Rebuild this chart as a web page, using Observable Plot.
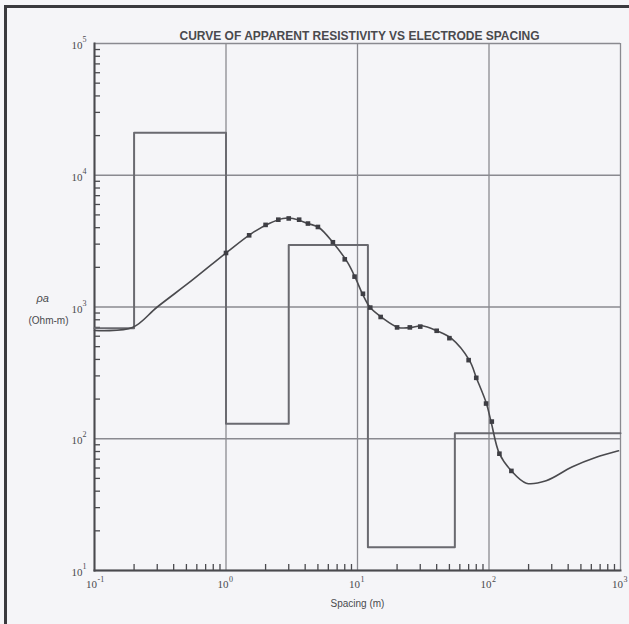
<!DOCTYPE html>
<html>
<head>
<meta charset="utf-8">
<script src="https://cdn.jsdelivr.net/npm/d3@7"></script>
<script src="https://cdn.jsdelivr.net/npm/@observablehq/plot@0.6"></script>
<style>
  html, body { margin: 0; padding: 0; background: #f5f5f8; }
  #chart svg { display: block; background: #f5f5f8; }
</style>
</head>
<body>
<div id="chart"></div>
<script>
const titleText = "CURVE OF APPARENT RESISTIVITY VS ELECTRODE SPACING";
const xLabel = "Spacing (m)";
const yLabel1 = "ρa";
const yLabel2 = "(Ohm-m)";

const xTicks = [0.1, 1, 10, 100, 1000];
const xTickBase = ["10", "10", "10", "10", "10"];
const xTickExp = ["-1", "0", "1", "2", "3"];
const yTicks = [10, 100, 1000, 10000, 100000];
const yTickBase = ["10", "10", "10", "10", "10"];
const yTickExp = ["1", "2", "3", "4", "5"];

// layered model (step line)
const layerBoundaries = [0.1, 0.2, 1.0, 3.0, 12, 55, 1000];
const layerResistivity = [690, 21000, 130, 2950, 15, 110];

// computed apparent resistivity curve
const curveSpacing = [0.1, 0.194, 0.30, 0.55, 1.0, 1.56, 2.13, 2.71, 3.23, 4.2, 5.08, 6.5, 8.4, 9.7, 10.9, 12.5, 15.4, 20.4, 26, 31, 40, 52, 71, 80.5, 95.6, 104, 120, 148, 192, 272, 427, 646, 966];
const curveRho = [664, 698, 1000, 1590, 2570, 3610, 4300, 4700, 4700, 4300, 4010, 3090, 2180, 1640, 1260, 990, 830, 700, 700, 720, 660, 575, 393, 287, 185, 133, 77, 57, 46, 48, 61, 72, 81];

// field measurements
const fieldSpacing = [1.0, 1.5, 2.0, 2.5, 3.0, 3.6, 4.2, 5.0, 6.5, 8.0, 9.5, 11, 12.5, 15, 20, 25, 30, 40, 50, 70, 80, 95, 105, 120, 148];
const fieldRho = [2570, 3500, 4200, 4600, 4700, 4600, 4300, 4050, 3100, 2300, 1700, 1260, 990, 840, 700, 700, 710, 660, 580, 395, 290, 185, 135, 77, 57];

const stepData = layerResistivity.map((r, i) => ({x: layerBoundaries[i], y: r}));
stepData.push({x: layerBoundaries[layerBoundaries.length - 1], y: layerResistivity[layerResistivity.length - 1]});
const curveData = curveSpacing.map((x, i) => ({x, y: curveRho[i]}));
const fieldData = fieldSpacing.map((x, i) => ({x, y: fieldRho[i]}));
const xLabelData = xTicks.map((v, i) => ({v, base: xTickBase[i], exp: xTickExp[i]}));
const yLabelData = yTicks.map((v, i) => ({v, base: yTickBase[i], exp: yTickExp[i]}));

// minor log ticks
const minorX = [];
for (let i = 0; i < xTicks.length - 1; i++) for (let k = 2; k <= 9; k++) minorX.push(xTicks[i] * k);
const minorY = [];
for (let i = 0; i < yTicks.length - 1; i++) for (let k = 2; k <= 9; k++) minorY.push(yTicks[i] * k);

const ink = "#4a4a4e";
const grid = "#8a8a90";
const tickFont = "Liberation Serif, serif";

const chart = Plot.plot({
  width: 629,
  height: 624,
  marginLeft: 94,
  marginRight: 9,
  marginTop: 43,
  marginBottom: 54,
  style: {fontFamily: "Liberation Sans, Arial, sans-serif", background: "#f5f5f8", color: ink},
  x: {type: "log", domain: [0.1, 1000]},
  y: {type: "log", domain: [10, 100000]},
  marks: [
    // grid
    Plot.gridX(xTicks, {stroke: grid, strokeOpacity: 1, strokeWidth: 1.3}),
    Plot.gridY(yTicks, {stroke: grid, strokeOpacity: 1, strokeWidth: 1.3}),
    // minor ticks pointing inward
    Plot.axisX(minorX, {tickSize: -6, tickFormat: () => "", stroke: ink, strokeWidth: 1.3, label: null}),
    Plot.axisY(minorY, {tickSize: -6, tickFormat: () => "", stroke: ink, strokeWidth: 1.3, label: null}),
    // major tick labels: base + exponent
    Plot.text(xLabelData, {x: "v", text: "base", frameAnchor: "bottom", dy: 17, dx: -3, fontSize: 11, fontFamily: tickFont, fill: ink}),
    Plot.text(xLabelData, {x: "v", text: "exp", frameAnchor: "bottom", dy: 11, dx: 3, textAnchor: "start", fontSize: 8, fontFamily: tickFont, fill: ink}),
    Plot.text(yLabelData, {y: "v", text: "base", frameAnchor: "left", dx: -12, dy: 2, textAnchor: "end", fontSize: 11, fontFamily: tickFont, fill: ink}),
    Plot.text(yLabelData, {y: "v", text: "exp", frameAnchor: "left", dx: -12, dy: -4, textAnchor: "start", fontSize: 8, fontFamily: tickFont, fill: ink}),
    // axis lines
    Plot.frame({anchor: "left", stroke: ink, strokeWidth: 2}),
    Plot.frame({anchor: "bottom", stroke: ink, strokeWidth: 2}),
    // scan border
    Plot.frame({anchor: "top", stroke: "#3a3a3e", strokeWidth: 3, insetTop: -37, insetLeft: -89, insetRight: -9}),
    Plot.frame({anchor: "left", stroke: "#3a3a3e", strokeWidth: 3, insetLeft: -89, insetTop: -37, insetBottom: -54}),
    // layered model
    Plot.line(stepData, {x: "x", y: "y", curve: "step-after", stroke: "#6a6a70", strokeWidth: 2}),
    // computed curve
    Plot.line(curveData, {x: "x", y: "y", curve: "catmull-rom", stroke: ink, strokeWidth: 1.6}),
    // field data
    Plot.dot(fieldData, {x: "x", y: "y", symbol: "square", r: 2.6, fill: "#3e3e44", stroke: "none"}),
    // texts
    Plot.text([titleText], {frameAnchor: "top", dy: -12, fontSize: 12, fontWeight: "bold", fill: ink, dx: 2}),
    Plot.text([xLabel], {frameAnchor: "bottom", dy: 36, fontSize: 10, fill: ink}),
    Plot.text([yLabel1], {frameAnchor: "left", dx: -58, dy: -9, fontSize: 11, fill: ink, fontStyle: "italic"}),
    Plot.text([yLabel2], {frameAnchor: "left", dx: -66, dy: 14, fontSize: 10, fill: ink})
  ]
});
document.getElementById("chart").appendChild(chart);
</script>
</body>
</html>
